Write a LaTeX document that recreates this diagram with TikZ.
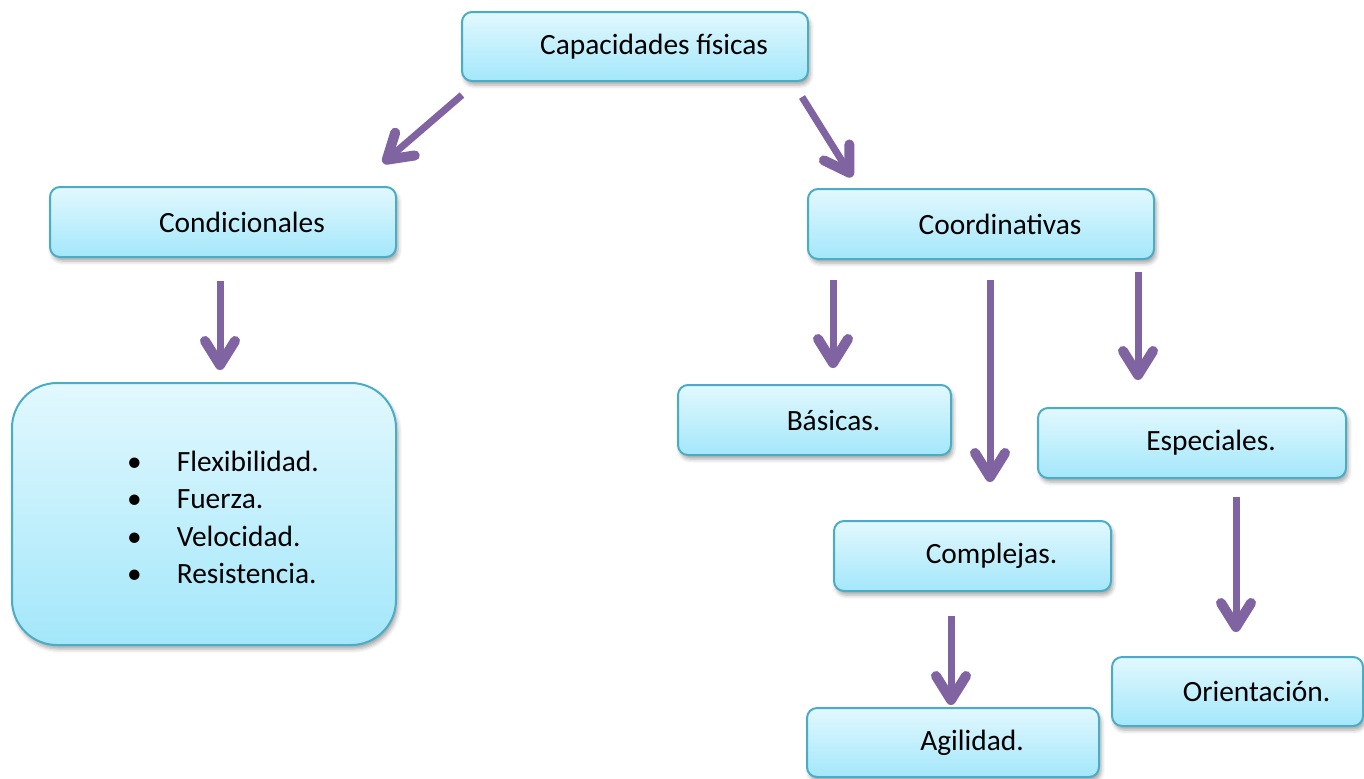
\documentclass[tikz,border=0pt]{standalone}
\usepackage{fontspec}
\setmainfont{Carlito}
\usetikzlibrary{arrows.meta,shadows.blur}
\definecolor{boxtop}{RGB}{226,248,254}
\definecolor{boxbot}{RGB}{163,231,250}
\definecolor{boxline}{RGB}{75,172,198}
\definecolor{arrowpurple}{RGB}{128,100,162}
\tikzset{
  box/.style={draw=boxline,line width=1pt,rounded corners=5pt,top color=boxtop,bottom color=boxbot,
    blur shadow={shadow xshift=1pt,shadow yshift=-2pt,shadow blur radius=2pt,shadow opacity=35},
    inner sep=0pt,font=\fontsize{14.7}{18.75}\selectfont,execute at begin node={\hspace*{19pt}}},
  arr/.style={draw=arrowpurple,line width=3.5pt,-{Straight Barb[length=12pt,width=15pt,line width=5pt,round]}}
}
\begin{document}
\begin{tikzpicture}[x=0.5pt,y=-0.5pt]
  \useasboundingbox (0,0) rectangle (1364,778);
  \node[box,minimum width=173pt,minimum height=34.5pt] (cap) at (635,46.5) {Capacidades físicas};
  \node[box,minimum width=173pt,minimum height=35pt] (cond) at (223,222) {Condicionales};
  \node[box,minimum width=173pt,minimum height=35pt] (coord) at (981,224) {Coordinativas};
  \node[box,rounded corners=22.5pt,minimum width=192pt,minimum height=131pt] (list) at (204,514) {%
    \begin{tabular}{@{}l@{\hspace{17.5pt}}l@{}}
      \noalign{\vskip 6pt}
      • & Flexibilidad.\\
      • & Fuerza.\\
      • & Velocidad.\\
      • & Resistencia.
    \end{tabular}};
  \node[box,minimum width=136.5pt,minimum height=35pt] (bas) at (814.5,420) {Básicas.};
  \node[box,minimum width=154pt,minimum height=35pt] (esp) at (1192,443) {Especiales.};
  \node[box,minimum width=138.5pt,minimum height=35pt] (comp) at (972.5,556) {Complejas.};
  \node[box,minimum width=125.5pt,minimum height=34.5pt] (ori) at (1237.5,691.5) {Orientación.};
  \node[box,minimum width=146pt,minimum height=34.5pt] (agi) at (953,742.5) {Agilidad.};
  \coordinate (capl) at (462,95);
  \coordinate (condt) at (383,163);
  \coordinate (capr) at (802,97);
  \coordinate (coordt) at (852,177);
  \coordinate (condb) at (220,281);
  \coordinate (listt) at (220,370);
  \coordinate (coordl) at (833,280);
  \coordinate (bast) at (833,368);
  \coordinate (coordm) at (990,280);
  \coordinate (compt) at (990,482);
  \coordinate (coordr) at (1138,272);
  \coordinate (espt) at (1138,380);
  \coordinate (compb) at (951,616);
  \coordinate (agit) at (951,705);
  \coordinate (espb) at (1236,497);
  \coordinate (orit) at (1236,632);
  \draw[arr] (capl) -- (condt);
  \draw[arr] (capr) -- (coordt);
  \draw[arr] (condb) -- (listt);
  \draw[arr] (coordl) -- (bast);
  \draw[arr] (coordm) -- (compt);
  \draw[arr] (coordr) -- (espt);
  \draw[arr] (compb) -- (agit);
  \draw[arr] (espb) -- (orit);
\end{tikzpicture}
\end{document}
